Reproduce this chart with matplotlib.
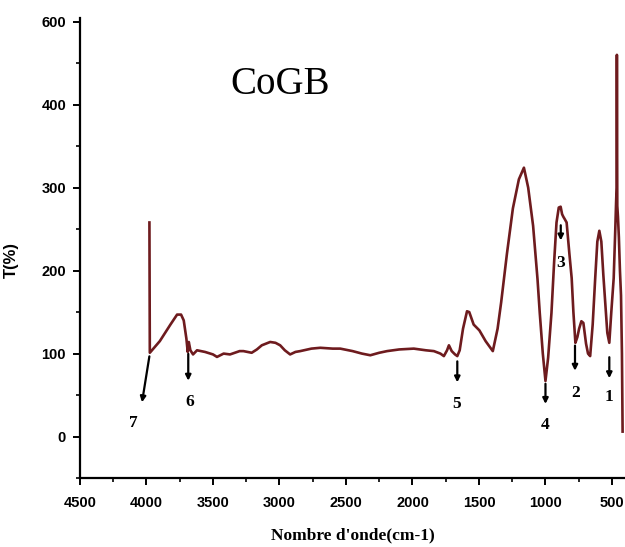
import matplotlib
matplotlib.use("Agg")
import matplotlib.pyplot as plt
from matplotlib.ticker import MultipleLocator, FixedLocator, FixedFormatter

# FTIR spectrum of CoGB
wavenumber = [3978, 3975, 3900, 3820, 3770, 3740, 3720, 3700, 3690, 3682, 3670, 3650,
              3620, 3560, 3500, 3470, 3420, 3372, 3300, 3271, 3209, 3170, 3133, 3070,
              3030, 2995, 2960, 2920, 2880, 2844, 2760, 2693, 2600, 2543, 2450, 2380,
              2317, 2250, 2191, 2100, 1990, 1900, 1839, 1790, 1764, 1740, 1726, 1705,
              1680, 1663, 1645, 1620, 1590, 1573, 1540, 1497, 1450, 1396, 1360, 1333,
              1290, 1245, 1200, 1162, 1130, 1093, 1060, 1043, 1020, 1000, 980, 955,
              935, 917, 900, 886, 875, 866, 855, 841, 820, 803, 790, 775, 760, 747,
              730, 715, 695, 680, 664, 645, 626, 610, 595, 580, 565, 550, 535, 520,
              505, 487, 475, 469, 465, 463, 460, 455, 448, 440, 432, 425, 420]
transmittance = [258, 101, 115, 135, 147, 147, 140, 118, 102, 114, 104, 99,
                 104, 102, 99, 96, 100, 99, 103, 103, 101, 105, 110, 114,
                 113, 110, 104, 99, 102, 103, 106, 107, 106, 106, 103, 100,
                 98, 101, 103, 105, 106, 104, 103, 100, 97, 104, 110, 103,
                 99, 97, 104, 130, 151, 150, 135, 128, 115, 103, 130, 162,
                 220, 275, 310, 324, 300, 254, 190, 149, 100, 67, 95, 149,
                 210, 258, 276, 277, 268, 265, 262, 258, 220, 191, 150, 113, 120, 130,
                 139, 137, 112, 100, 97, 135, 191, 235, 248, 235, 195, 160, 125, 113,
                 150, 191, 250, 282, 300, 460, 278, 265, 240, 200, 170, 100, 6]

# band markers: number, curve point, arrow tip, label position
band_labels = ["1", "2", "3", "4", "5", "6", "7"]
arrow_start = [(520, 99), (778, 113), (885, 258), (1000, 67), (1663, 94), (3686, 103), (3975, 100)]
arrow_end = [(520, 67), (778, 76), (885, 233), (1000, 36), (1663, 62), (3686, 64), (4037, 38)]
label_pos = [(520, 48), (775, 52), (885, 209), (1003, 14), (1665, 39), (3673, 42), (4100, 16)]

fig = plt.figure(figsize=(6.25, 5.47), dpi=100)
ax = fig.add_axes([0.128, 0.126, 0.872, 0.842])

ax.plot(wavenumber, transmittance, color="#6e1b1e", lw=1.9)

for lab, s, e, p in zip(band_labels, arrow_start, arrow_end, label_pos):
    ax.annotate("", xy=e, xytext=s,
                arrowprops=dict(arrowstyle="-|>", color="black", lw=1.6, mutation_scale=8))
    ax.text(p[0], p[1], lab, ha="center", va="center", fontsize=12.5,
            fontweight="bold", family="Liberation Serif")

ax.set_xlim(4500, 402)
ax.set_ylim(-50, 505)

ax.xaxis.set_major_locator(MultipleLocator(500))
ax.xaxis.set_minor_locator(MultipleLocator(250))
ax.yaxis.set_major_locator(FixedLocator([0, 100, 200, 300, 400, 500]))
ax.yaxis.set_major_formatter(FixedFormatter(["0", "100", "200", "300", "400", "600"]))
ax.yaxis.set_minor_locator(MultipleLocator(50))

for side in ["top", "right"]:
    ax.spines[side].set_visible(False)
for side in ["left", "bottom"]:
    ax.spines[side].set_linewidth(1.6)

ax.tick_params(axis="both", which="major", direction="out", length=5, width=1.4)
ax.tick_params(axis="both", which="minor", direction="out", length=3, width=1.2)
ax.tick_params(axis="x", which="major", pad=8)
ax.tick_params(axis="y", which="major", pad=5)
for t in ax.get_xticklabels() + ax.get_yticklabels():
    t.set_fontweight("bold")
    t.set_family("Liberation Sans")
    t.set_fontsize(10.5)

ax.set_xlabel("Nombre d'onde(cm-1)", fontsize=12.5, fontweight="bold", family="Liberation Serif")
ax.xaxis.set_label_coords(0.5, -0.108)
ax.set_ylabel("T(%)", fontsize=12, fontweight="bold", family="Liberation Sans")
ax.yaxis.set_label_coords(-0.112, 0.473)

fig.text(0.448, 0.845, "CoGB", fontsize=28, family="Liberation Serif", ha="center", va="center")

fig.savefig("out.png", dpi=100)
